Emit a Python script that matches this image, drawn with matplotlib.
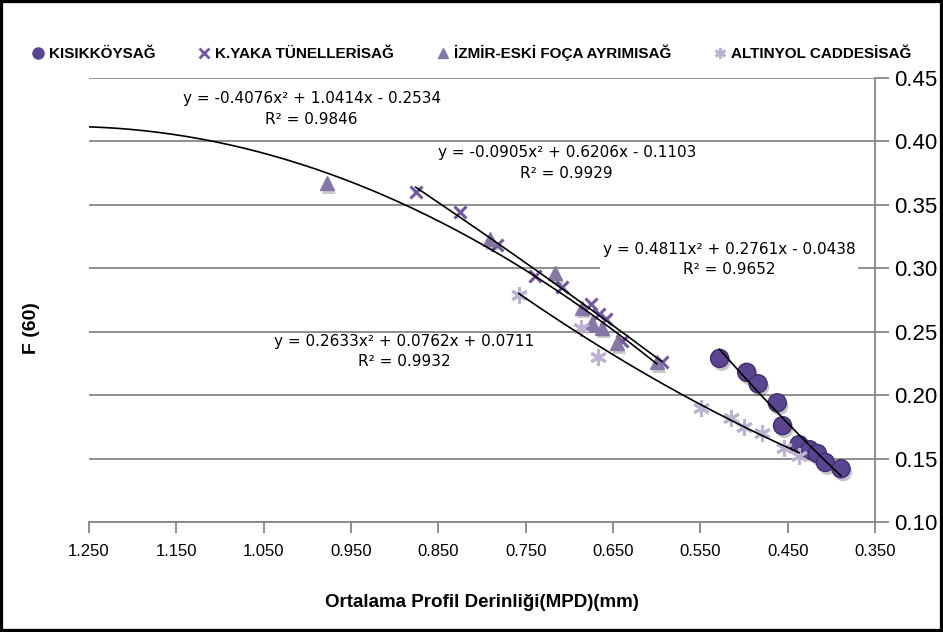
import numpy as np
import matplotlib.pyplot as plt
import matplotlib.patheffects as pe
from matplotlib.lines import Line2D
from matplotlib.patches import Rectangle

# values
kisikkoy_x = [0.528, 0.497, 0.484, 0.462, 0.456, 0.437, 0.425, 0.416, 0.407, 0.389]
kisikkoy_y = [0.229, 0.218, 0.209, 0.194, 0.176, 0.161, 0.157, 0.154, 0.147, 0.142]

kyaka_x = [0.876, 0.825, 0.783, 0.739, 0.708, 0.675, 0.666, 0.658, 0.640, 0.594]
kyaka_y = [0.360, 0.344, 0.318, 0.294, 0.285, 0.272, 0.264, 0.260, 0.243, 0.226]

izmir_x = [0.978, 0.791, 0.716, 0.686, 0.674, 0.663, 0.646, 0.600]
izmir_y = [0.367, 0.323, 0.296, 0.269, 0.257, 0.253, 0.241, 0.226]

altinyol_x = [0.758, 0.687, 0.667, 0.549, 0.515, 0.500, 0.479, 0.454, 0.437]
altinyol_y = [0.279, 0.253, 0.230, 0.190, 0.182, 0.175, 0.170, 0.158, 0.152]

series_names = ['KISIKKÖYSAĞ', 'K.YAKA TÜNELLERİSAĞ', 'İZMİR-ESKİ FOÇA AYRIMISAĞ', 'ALTINYOL CADDESİSAĞ']

# polynomial trendlines y = a x^2 + b x + c
kisikkoy_fit = [0.4811, 0.2761, -0.0438]
kyaka_fit = [-0.0905, 0.6206, -0.1103]
izmir_fit = [-0.4076, 1.0414, -0.2534]
altinyol_fit = [0.2633, 0.0762, 0.0711]
r2_values = [0.9652, 0.9929, 0.9846, 0.9932]
izmir_backcast_to = 1.25

x_ticks = [1.25, 1.15, 1.05, 0.95, 0.85, 0.75, 0.65, 0.55, 0.45, 0.35]
y_ticks = [0.10, 0.15, 0.20, 0.25, 0.30, 0.35, 0.40, 0.45]

LABEL_FONT = ['Liberation Sans', 'DejaVu Sans']

fig = plt.figure(figsize=(9.43, 6.32), dpi=100)
ax = fig.add_axes([0.0944, 0.174, 0.8336, 0.7026])

shadow = [pe.SimplePatchShadow(offset=(1.5, -2.5), alpha=0.25), pe.Normal()]

ax.plot(kisikkoy_x, kisikkoy_y, 'o', ms=13, color='#5a4690', mec='#3f2f6e', mew=1, zorder=3, path_effects=shadow)
ax.plot(kyaka_x, kyaka_y, 'x', ms=9, mew=2.2, color='#7458a0', zorder=3)
ax.plot(izmir_x, izmir_y, '^', ms=10, color='#8577a6', mec='#8577a6', zorder=3, path_effects=shadow)
ax.plot(altinyol_x, altinyol_y, marker=(6, 2, 0), ls='none', ms=12, mew=2.2, color='#bcb3d3', zorder=3)

# trendlines
def trend(coef, x0, x1):
    xs = np.linspace(x0, x1, 200)
    ax.plot(xs, np.polyval(coef, xs), color='black', lw=1.2, zorder=4)

trend(kisikkoy_fit, min(kisikkoy_x), max(kisikkoy_x))
trend(kyaka_fit, min(kyaka_x), max(kyaka_x))
trend(izmir_fit, min(izmir_x), izmir_backcast_to)
trend(altinyol_fit, min(altinyol_x), max(altinyol_x))

def eq_text(coef, r2, x, y, box=False):
    a, b, c = coef
    s = 'y = %.4fx² %s %.4fx %s %.4f\nR² = %.4f' % (a, '+' if b >= 0 else '-', abs(b),
                                                  '+' if c >= 0 else '-', abs(c), r2)
    kw = {}
    if box:
        kw['bbox'] = dict(facecolor='white', edgecolor='none', pad=2)
    ax.text(x, y, s, ha='center', va='center', fontsize=11, linespacing=1.45,
            zorder=5, **kw)

eq_text(izmir_fit, r2_values[2], 0.995, 0.4257)
eq_text(kyaka_fit, r2_values[1], 0.703, 0.383)
eq_text(kisikkoy_fit, r2_values[0], 0.517, 0.307, box=True)
eq_text(altinyol_fit, r2_values[3], 0.889, 0.2345)

ax.set_xlim(1.25, 0.35)
ax.set_ylim(0.10, 0.45)
ax.set_xticks(x_ticks)
ax.set_xticklabels(['%.3f' % t for t in x_ticks])
ax.set_yticks(y_ticks)
ax.set_yticklabels(['%.2f' % t for t in y_ticks])
ax.yaxis.tick_right()
ax.yaxis.grid(True, color='#868686', lw=1.3)
ax.set_axisbelow(True)

for side in ['left', 'top']:
    ax.spines[side].set_visible(False)
for side in ['bottom', 'right']:
    ax.spines[side].set_color('#868686')
    ax.spines[side].set_linewidth(1.3)

ax.tick_params(axis='y', direction='out', length=10, width=1.3, color='#868686', labelsize=16, pad=4)
ax.tick_params(axis='x', direction='out', length=8, width=1.3, color='#868686', labelsize=12, pad=8)
for lab in ax.get_xticklabels() + ax.get_yticklabels():
    lab.set_family(LABEL_FONT)

ax.set_xlabel('Ortalama Profil Derinliği(MPD)(mm)', fontsize=13.5, fontweight='bold', family=LABEL_FONT)
ax.xaxis.set_label_coords(0.5, -0.162)
fig.text(32 / 943, 1 - 328 / 632, 'F (60)', rotation=90, ha='center', va='center',
         fontsize=14, fontweight='bold', family=LABEL_FONT)

handles = [
    Line2D([], [], ls='none', marker='o', ms=8, color='#5a4690'),
    Line2D([], [], ls='none', marker='x', ms=7, mew=2, color='#7458a0'),
    Line2D([], [], ls='none', marker='^', ms=7, color='#8577a6'),
    Line2D([], [], ls='none', marker=(6, 2, 0), ms=8, mew=2, color='#bcb3d3'),
]
fig.legend(handles, series_names, loc='center', bbox_to_anchor=(0.5, 0.916), ncol=4,
           frameon=False, handlelength=0.8, handletextpad=0.3, columnspacing=2.8,
           prop={'family': LABEL_FONT, 'weight': 'bold', 'size': 11})

fig.patches.append(Rectangle((0, 0), 1, 1, transform=fig.transFigure, fill=False,
                             edgecolor='black', lw=4.5))

fig.savefig('out.png', dpi=100)
